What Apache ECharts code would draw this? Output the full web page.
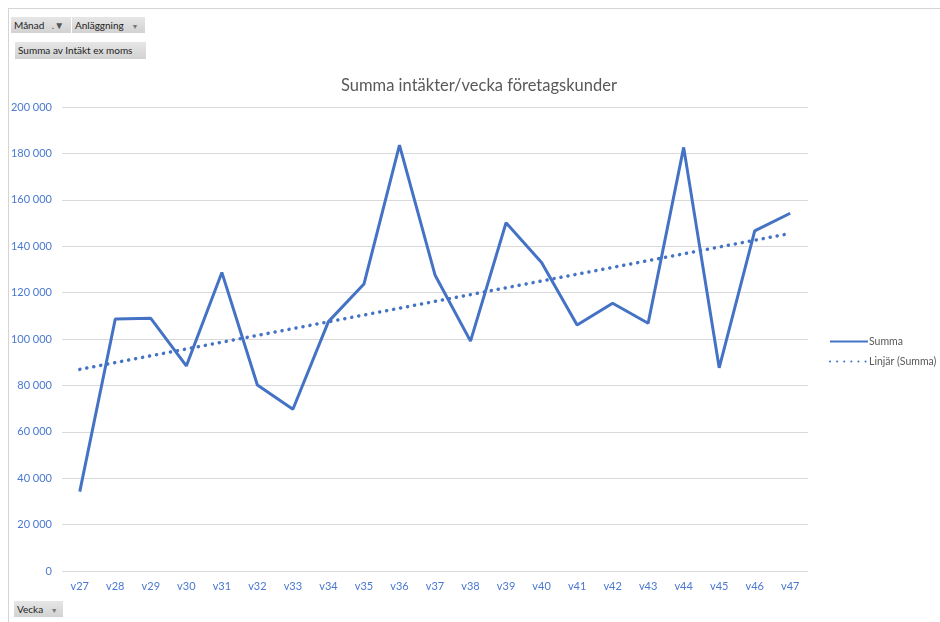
<!DOCTYPE html>
<html>
<head>
<meta charset="utf-8">
<script src="https://cdn.jsdelivr.net/npm/echarts@6/dist/echarts.min.js"></script>
<style>
	body { margin: 0; background: #fff; font-family: Lato, "Open Sans", sans-serif; }
	#wrap { position: relative; width: 940px; height: 622px; }
	#frame { position: absolute; left: 8px; top: 8px; width: 940px; height: 640px;
		border-top: 1px solid #d4d4d4; border-left: 1px solid #d4d4d4; }
	#main { position: absolute; left: 0; top: 0; width: 940px; height: 622px; }
	.btn { position: absolute; height: 16px; line-height: 16px; font-size: 10px; color: #222;
		background: linear-gradient(#e6e6e6, #d2d2d2); padding: 0 3px; box-sizing: border-box;
		white-space: nowrap; overflow: hidden; z-index: 2; }
	.arrow { color: #777; font-size: 7px; margin-left: 5px; }
</style>
</head>
<body>
<div id="wrap">
	<div id="frame"></div>
	<div id="main"></div>
	<div class="btn" style="left:11px;top:17px;width:60px;">Månad <span class="arrow" style="font-size:10px;color:#555">.▼</span></div>
	<div class="btn" style="left:72px;top:17px;width:73px;">Anläggning <span class="arrow">▼</span></div>
	<div class="btn" style="left:15px;top:42px;width:131px;height:17px;line-height:17px;">Summa av Intäkt ex moms</div>
	<div class="btn" style="left:14px;top:601px;width:49px;">Vecka <span class="arrow">▼</span></div>
</div>
<script>
// veckor
var weeks = ['v27','v28','v29','v30','v31','v32','v33','v34','v35','v36','v37',
	'v38','v39','v40','v41','v42','v43','v44','v45','v46','v47'];
// summa intäkter per vecka
var summa = [34200, 108600, 108900, 88400, 128700, 80200, 69700, 107500, 123700, 183600, 127600,
	99100, 150100, 133000, 106000, 115400, 106800, 182600, 87600, 146600, 154200];
// linjär trend, bara ändpunkterna
var trend = [86900, null, null, null, null, null, null, null, null, null, null,
	null, null, null, null, null, null, null, null, null, 145500];

var blue = '#4472c4';

var myChart = echarts.init(document.getElementById('main'));
var option = {
	animation: false,
	title: {
		text: 'Summa intäkter/vecka företagskunder',
		left: 474,
		top: 72,
		textAlign: 'center',
		textStyle: { fontFamily: 'Lato', fontSize: 16.5, fontWeight: 'normal', color: '#595959' }
	},
	legend: {
		orient: 'vertical',
		left: 824,
		top: 331,
		itemGap: 9,
		itemWidth: 38,
		itemHeight: 10,
		itemStyle: { opacity: 0 },
		textStyle: { fontFamily: 'Lato', fontSize: 10.5, color: '#595959', padding: [0, 0, 0, -4] },
		data: ['Summa', 'Linjär (Summa)']
	},
	grid: { left: 62, right: 132, top: 107, bottom: 51 },
	xAxis: {
		type: 'category',
		data: weeks,
		boundaryGap: true,
		axisLine: { show: false },
		axisTick: { show: false },
		axisLabel: { color: '#4a78d0', fontFamily: 'Lato', fontSize: 11, margin: 10 }
	},
	yAxis: {
		type: 'value',
		min: 0,
		max: 200000,
		interval: 20000,
		axisLine: { show: false },
		axisTick: { show: false },
		splitLine: { lineStyle: { color: '#d9d9d9', width: 1 } },
		axisLabel: {
			color: '#4a78d0', fontFamily: 'Lato', fontSize: 11, margin: 10,
			formatter: function (v) { return String(v).replace(/\B(?=(\d{3})+(?!\d))/g, '\u00a0'); }
		}
	},
	series: [
		{
			name: 'Summa',
			type: 'line',
			data: summa,
			symbol: 'none',
			lineStyle: { color: blue, width: 3 },
			itemStyle: { color: blue },
			z: 3
		},
		{
			name: 'Linjär (Summa)',
			type: 'line',
			data: trend,
			connectNulls: true,
			symbol: 'none',
			lineStyle: { color: blue, width: 3.5, type: [0.1, 7], cap: 'round' },
			itemStyle: { color: blue },
			z: 2
		}
	]
};
myChart.setOption(option);
</script>
</body>
</html>
